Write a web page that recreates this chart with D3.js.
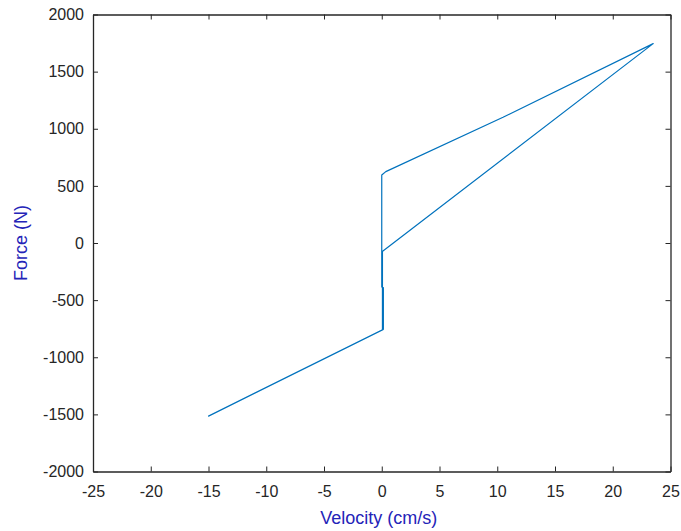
<!DOCTYPE html>
<html>
<head>
<meta charset="utf-8">
<script src="https://cdn.jsdelivr.net/npm/d3@7"></script>
<style>
  body { margin: 0; background: #fff; }
  text { font-family: "Liberation Sans", Arial, sans-serif; }
</style>
</head>
<body>
<div id="chart"></div>
<script>
// Force-velocity loop
var velocity = [0, 0, 0.35, 10.5, 23.5, 0.02, 0.06, 0.06, -15, 0.1, 0.1, 0.14, 0.14];
var force = [-390, 595, 625, 1100, 1745, -76, -76, -760, -1515, -760, -390, -390, -760];

var xTicks = [-25, -20, -15, -10, -5, 0, 5, 10, 15, 20, 25];
var yTicks = [-2000, -1500, -1000, -500, 0, 500, 1000, 1500, 2000];

// Define margin, width and height for SVG canvas
var margin = {top: 14.5, right: 10.5, bottom: 59.5, left: 93};
var width = 681 - margin.left - margin.right;
var height = 531 - margin.top - margin.bottom;

var x = d3.scaleLinear().domain([-25, 25]).range([0, width]);
var y = d3.scaleLinear().domain([-2000, 2000]).range([height, 0]);

var svg = d3.select("#chart").append("svg")
    .attr("width", 681)
    .attr("height", 531)
  .append("g")
    .attr("transform", "translate(" + margin.left + "," + margin.top + ")");

var axisColor = "#262626";
var fmt = function(d) { return String(d); };

// Bottom and left axes with ticks pointing inward
svg.append("g")
    .attr("transform", "translate(0," + height + ")")
    .call(d3.axisBottom(x).tickValues(xTicks).tickFormat(fmt)
        .tickSizeInner(-5).tickSizeOuter(0).tickPadding(14));

svg.append("g")
    .call(d3.axisLeft(y).tickValues(yTicks).tickFormat(fmt)
        .tickSizeInner(-5).tickSizeOuter(0).tickPadding(9));

// Top and right axes (box with ticks, no labels)
svg.append("g")
    .call(d3.axisTop(x).tickValues(xTicks).tickSizeInner(-5).tickSizeOuter(0).tickFormat(""));

svg.append("g")
    .attr("transform", "translate(" + width + ",0)")
    .call(d3.axisRight(y).tickValues(yTicks).tickSizeInner(-5).tickSizeOuter(0).tickFormat(""));

svg.selectAll(".domain").attr("stroke", axisColor).attr("stroke-width", 1.3);
svg.selectAll(".tick line").attr("stroke", axisColor).attr("stroke-width", 1);
svg.selectAll(".tick text")
    .attr("fill", axisColor)
    .style("font-size", "16px")
    .style("font-family", "'Liberation Sans', Arial, sans-serif");

// Data line
var line = d3.line()
    .x(function(d, i) { return x(velocity[i]); })
    .y(function(d, i) { return y(force[i]); });

svg.append("path")
    .datum(force)
    .attr("fill", "none")
    .attr("stroke", "#0072BD")
    .attr("stroke-width", 1.2)
    .attr("stroke-linejoin", "round")
    .attr("d", line);

// Axis labels
svg.append("text")
    .attr("x", width / 2 - 3)
    .attr("y", height + 52)
    .attr("text-anchor", "middle")
    .attr("fill", "#2424b8")
    .style("font-size", "18px")
    .text("Velocity (cm/s)");

svg.append("text")
    .attr("transform", "translate(" + (-66) + "," + (height / 2) + ") rotate(-90)")
    .attr("text-anchor", "middle")
    .attr("fill", "#2424b8")
    .style("font-size", "18px")
    .text("Force (N)");
</script>
</body>
</html>
